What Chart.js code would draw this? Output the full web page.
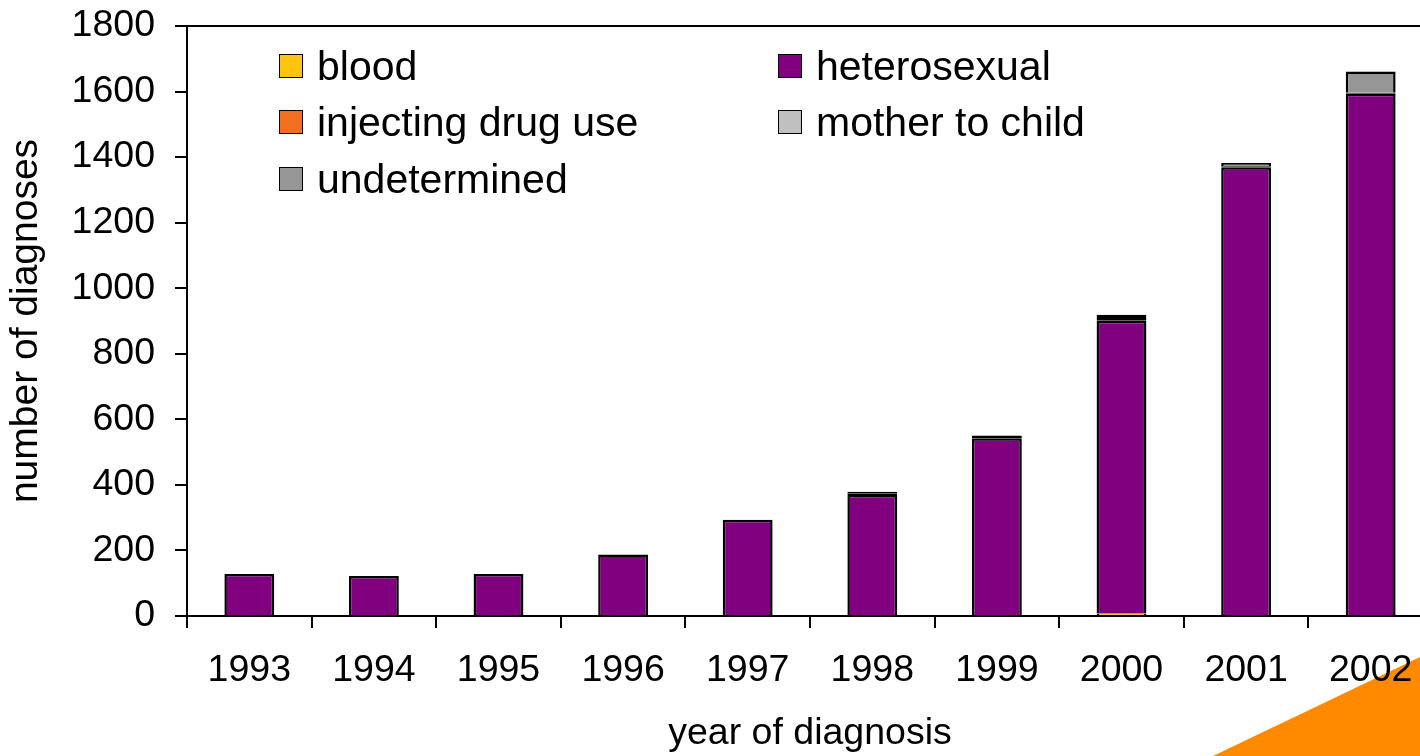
<!DOCTYPE html>
<html><head><meta charset="utf-8">
<script src="https://cdn.jsdelivr.net/npm/chart.js@4"></script>
<style>
html,body{margin:0;padding:0;overflow:hidden;background:#fff;}
#wrap{position:relative;width:1440px;height:756px;}
#tri{position:absolute;left:0;top:0;width:1420px;height:756px;background:#FF8A00;clip-path:polygon(1213px 756px,1420px 657px,1420px 756px);}
canvas{position:absolute;left:0;top:0;}
.leg{position:absolute;display:flex;align-items:center;font-family:"Liberation Sans",Arial,sans-serif;font-size:41px;line-height:48px;height:48px;color:#000;white-space:nowrap;}
.leg i{display:inline-block;box-sizing:border-box;width:24px;height:24px;border:1.5px solid #000;margin-right:14px;}
</style></head>
<body>
<div id="wrap">
  <div id="tri"></div>
  <canvas id="c" width="1440" height="756"></canvas>
  <div id="legend"></div>
</div>
<script>
const years = ['1993','1994','1995','1996','1997','1998','1999','2000','2001','2002'];
const blood            = [0,   0,   0,   0,   0,   0,   2,   8,   2,    3];
const heterosexual     = [128, 122, 128, 188, 294, 369, 540, 893, 1367, 1590];
const injectingDrugUse = [0,   0,   0,   0,   0,   4,   4,   8,   1,    3];
const motherToChild    = [0,   0,   0,   0,   0,   6,   5,   10,  2,    0];
const undetermined     = [0,   0,   0,   0,   0,   0,   0,   0,   10,   65];
const seriesNames  = ['blood','heterosexual','injecting drug use','mother to child','undetermined'];
const seriesColors = ['#FFC40F','#800080','#F26F22','#C0C0C0','#969696'];
const yTicks = [0,200,400,600,800,1000,1200,1400,1600,1800];

const seriesData = [blood, heterosexual, injectingDrugUse, motherToChild, undetermined];
const FONT = {family:'"Liberation Sans", Arial, sans-serif', size:37.5};
const YTITLE_FONT = {family:'"Liberation Sans", Arial, sans-serif', size:39};
const thinSeries = ['injecting drug use','mother to child'];

const datasets = seriesNames.map((n,i)=>({
  label:n, data:seriesData[i], backgroundColor:seriesColors[i],
  borderColor:'#000', borderWidth:2.5, barPercentage:0.4, categoryPercentage:1.0,
  borderSkipped: thinSeries.includes(n) ? false : 'start'
}));

new Chart(document.getElementById('c'), {
  type:'bar',
  data:{labels:years, datasets},
  options:{
    responsive:false, animation:false, devicePixelRatio:1,
    layout:{padding:{top:26,left:0,right:7,bottom:0}},
    plugins:{legend:{display:false}, tooltip:{enabled:false}},
    scales:{
      x:{
        stacked:true,
        ticks:{font:FONT,color:'#000',padding:20,maxRotation:0,autoSkip:false},
        grid:{offset:true,drawOnChartArea:false,color:'#000',tickColor:'#000',tickLength:12,lineWidth:2},
        border:{display:true,color:'#000',width:2},
        title:{display:true,text:'year of diagnosis',font:FONT,color:'#000',padding:{top:0,bottom:0}},
        afterFit:s=>{s.height=140; s.paddingLeft=0; s.paddingRight=0;}
      },
      y:{
        stacked:true,min:0,max:1800,
        afterBuildTicks:s=>{s.ticks=yTicks.map(v=>({value:v}));},
        ticks:{font:FONT,color:'#000',padding:20,callback:v=>String(v)},
        grid:{color:c=>(c.tick&&c.tick.value===1800)?'#000':'rgba(0,0,0,0)',lineWidth:2,tickColor:'#000',tickLength:12,drawOnChartArea:true},
        border:{display:true,color:'#000',width:2},
        title:{display:true,text:'number of diagnoses',font:YTITLE_FONT,color:'#000',padding:{top:3,bottom:0}},
        afterFit:s=>{s.width=187; s.paddingTop=0; s.paddingBottom=0;}
      }
    }
  }
});

// legend (two columns, row-major)
const legPos = [[279,42],[778,42],[279,98],[778,98],[279,155]];
const lg = document.getElementById('legend');
seriesNames.forEach((n,i)=>{
  const d=document.createElement('div');
  d.className='leg';
  d.style.left=legPos[i][0]+'px'; d.style.top=legPos[i][1]+'px';
  const b=document.createElement('i'); b.style.background=seriesColors[i];
  d.appendChild(b); d.appendChild(document.createTextNode(n));
  lg.appendChild(d);
});
</script>
</body></html>
